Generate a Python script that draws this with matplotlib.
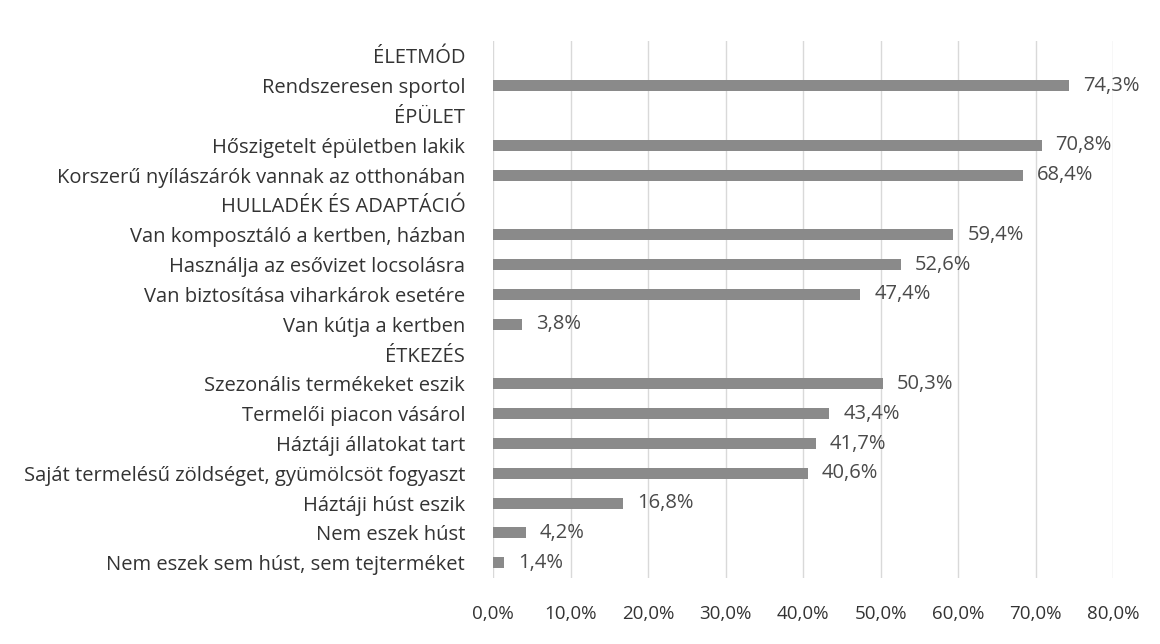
import matplotlib.pyplot as plt

# rows top to bottom; None marks a group heading without a bar
labels = [
    "ÉLETMÓD",
    "Rendszeresen sportol",
    "ÉPÜLET",
    "Hőszigetelt épületben lakik",
    "Korszerű nyílászárók vannak az otthonában",
    "HULLADÉK ÉS ADAPTÁCIÓ",
    "Van komposztáló a kertben, házban",
    "Használja az esővizet locsolásra",
    "Van biztosítása viharkárok esetére",
    "Van kútja a kertben",
    "ÉTKEZÉS",
    "Szezonális termékeket eszik",
    "Termelői piacon vásárol",
    "Háztáji állatokat tart",
    "Saját termelésű zöldséget, gyümölcsöt fogyaszt",
    "Háztáji húst eszik",
    "Nem eszek húst",
    "Nem eszek sem húst, sem tejterméket",
]
values = [None, 74.3, None, 70.8, 68.4, None, 59.4, 52.6, 47.4, 3.8,
          None, 50.3, 43.4, 41.7, 40.6, 16.8, 4.2, 1.4]
xticks = [0, 10, 20, 30, 40, 50, 60, 70, 80]

plt.rcParams['font.family'] = ['Open Sans', 'DejaVu Sans']

fig = plt.figure(figsize=(11.6, 6.44), dpi=100)
ax = fig.add_axes([0.425, 0.103, 0.5345, 0.8333])

n = len(labels)
ys = list(range(n))
for y, v in zip(ys, values):
    if v is None:
        continue
    ax.barh(y, v, height=0.37, color='#8a8a8a', zorder=3)
    ax.annotate(f"{v:.1f}%".replace('.', ','), (v, y), xytext=(10, 0),
                textcoords='offset points', va='center', ha='left',
                fontsize=14.5, color='#4a4a4a')

ax.set_ylim(n - 0.5, -0.5)
ax.set_xlim(0, 80)
ax.set_yticks(ys)
ax.set_yticklabels(labels, fontsize=14.5, color='#333333')
ax.set_xticks(xticks)
ax.set_xticklabels([f"{t:.1f}%".replace('.', ',') for t in xticks],
                   fontsize=13.5, color='#333333')
ax.tick_params(axis='both', length=0)
ax.tick_params(axis='y', pad=20)
ax.tick_params(axis='x', pad=20)
ax.xaxis.grid(True, color='#d9d9d9', linewidth=1, zorder=0)
for s in ax.spines.values():
    s.set_visible(False)

fig.savefig('out.png', dpi=100, facecolor='white')
